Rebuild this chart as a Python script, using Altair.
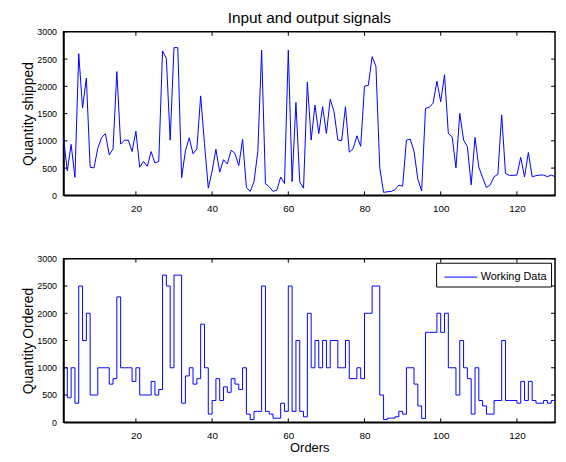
import altair as alt
import pandas as pd

# Quantity shipped (top panel), orders 1..130
shipped = [1050, 450, 935, 330, 2600, 1600, 2150, 515, 503, 863,
           1060, 1132, 743, 850, 2270, 940, 1012, 1012, 803, 1175,
           515, 623, 533, 803, 593, 623, 2650, 2510, 1012, 2710,
           2710, 324, 816, 1056, 762, 852, 1824, 950, 132, 444,
           846, 426, 654, 576, 828, 768, 546, 1026, 144, 72,
           252, 804, 2664, 216, 156, 72, 96, 336, 216, 2664,
           252, 1704, 245, 132, 2076, 1014, 1656, 1134, 1626, 1134,
           1764, 1536, 1014, 1002, 1626, 792, 852, 1092, 900, 2004,
           2016, 2544, 2364, 504, 54, 66, 72, 102, 186, 168,
           1014, 1032, 810, 294, 80, 1596, 1614, 1692, 2094, 1716,
           2214, 1134, 1074, 504, 1506, 1014, 894, 192, 1062, 516,
           324, 144, 192, 342, 384, 1476, 402, 366, 366, 372,
           696, 336, 786, 342, 360, 372, 372, 342, 372, 342]

# Quantity ordered (bottom panel, "Working Data")
ordered = [1000, 450, 1000, 350, 2500, 1500, 2000, 500, 500, 1000,
           1000, 1000, 700, 800, 2300, 1000, 1000, 1000, 750, 1000,
           500, 500, 500, 750, 500, 600, 2700, 2500, 1000, 2700,
           2700, 350, 850, 1000, 700, 800, 1800, 1000, 150, 400,
           800, 400, 650, 550, 800, 700, 600, 1000, 150, 50,
           200, 200, 2500, 200, 150, 75, 75, 350, 200, 2500,
           200, 1500, 200, 100, 2000, 1000, 1500, 1000, 1500, 1000,
           1500, 1500, 1000, 1000, 1500, 800, 800, 1000, 800, 2000,
           2000, 2500, 2500, 500, 50, 75, 75, 100, 200, 150,
           1000, 1000, 700, 300, 70, 1650, 1650, 1650, 2000, 1650,
           2000, 1000, 1000, 500, 1500, 1000, 800, 150, 1000, 400,
           300, 150, 150, 400, 400, 1500, 400, 400, 400, 350,
           750, 400, 750, 400, 350, 350, 400, 350, 400, 400]

orders = list(range(1, len(shipped) + 1))
x_ticks = [20, 40, 60, 80, 100, 120]
y_ticks = [0, 500, 1000, 1500, 2000, 2500, 3000]
legend_label = "Working Data"

W = 496
H = 165
FONT = "Liberation Sans"
BLUE = "#0000ff"
TICK = 4

df_top = pd.DataFrame({"Order": orders, "Value": shipped})
df_bot = pd.DataFrame({"Order": orders, "Value": ordered, "series": legend_label})
df_xt = pd.DataFrame({"Order": x_ticks})
df_yt = pd.DataFrame({"Value": y_ticks})


def xenc(title):
    return alt.X(
        "Order:Q",
        scale=alt.Scale(domain=[1, 130], nice=False, zero=False),
        axis=alt.Axis(values=x_ticks, title=title, ticks=False, grid=False,
                      labelFontSize=10, labelPadding=8, titleFontSize=13,
                      titlePadding=1, titleFontWeight="normal"),
    )


def yenc(title):
    return alt.Y(
        "Value:Q",
        scale=alt.Scale(domain=[0, 3000], nice=False),
        axis=alt.Axis(values=y_ticks, format="d", title=title, ticks=False,
                      grid=False, labelFontSize=9, labelPadding=7,
                      titleFontSize=14, titleX=-28, titleY=H / 2,
                      titleFontWeight="normal"),
    )


def tick_layers(xtitle, ytitle):
    xb = alt.Chart(df_xt).mark_rule(color="black", strokeWidth=1).encode(
        x=xenc(xtitle), y=alt.value(H), y2=alt.value(H - TICK))
    xtp = alt.Chart(df_xt).mark_rule(color="black", strokeWidth=1).encode(
        x=xenc(xtitle), y=alt.value(0), y2=alt.value(TICK))
    yl = alt.Chart(df_yt).mark_rule(color="black", strokeWidth=1).encode(
        y=yenc(ytitle), x=alt.value(0), x2=alt.value(TICK))
    yr = alt.Chart(df_yt).mark_rule(color="black", strokeWidth=1).encode(
        y=yenc(ytitle), x=alt.value(W), x2=alt.value(W - TICK))
    return [xb, xtp, yl, yr]


top_line = alt.Chart(df_top).mark_line(color=BLUE, strokeWidth=1).encode(
    x=xenc(None), y=yenc("Quantity shipped"))

top = alt.layer(top_line, *tick_layers(None, "Quantity shipped")).properties(
    width=W, height=H,
    title=alt.TitleParams("Input and output signals", fontSize=15.5,
                          fontWeight="normal", font=FONT, anchor="middle",
                          offset=1, color="black"),
)

bot_line = alt.Chart(df_bot).mark_line(strokeWidth=1, interpolate="step-after").encode(
    x=xenc("Orders"), y=yenc("Quantity Ordered"),
    color=alt.Color("series:N", scale=alt.Scale(range=[BLUE]),
                    legend=alt.Legend(title=None, orient="top-right", offset=4,
                                      padding=4, strokeColor="black", fillColor="white",
                                      symbolType="M-0.6,0H2.7", symbolSize=400,
                                      symbolStrokeWidth=1, labelFontSize=11,
                                      labelOffset=20, labelFont=FONT,
                                      labelColor="black")),
)

bottom = alt.layer(bot_line, *tick_layers("Orders", "Quantity Ordered")).properties(
    width=W, height=H)

chart = alt.vconcat(top, bottom, spacing=64, bounds="flush").resolve_legend(
    color="independent"
).properties(
    padding={"left": 13, "top": 0, "right": 0, "bottom": 0},
    background="white",
).configure_view(stroke="black", strokeWidth=1.5).configure_axis(
    labelFont=FONT, titleFont=FONT, labelColor="black", titleColor="black",
    domainColor="black", domainWidth=1.5,
).configure_legend(cornerRadius=0)

chart.save("out.html", embed_options={"renderer": "svg", "actions": False})
